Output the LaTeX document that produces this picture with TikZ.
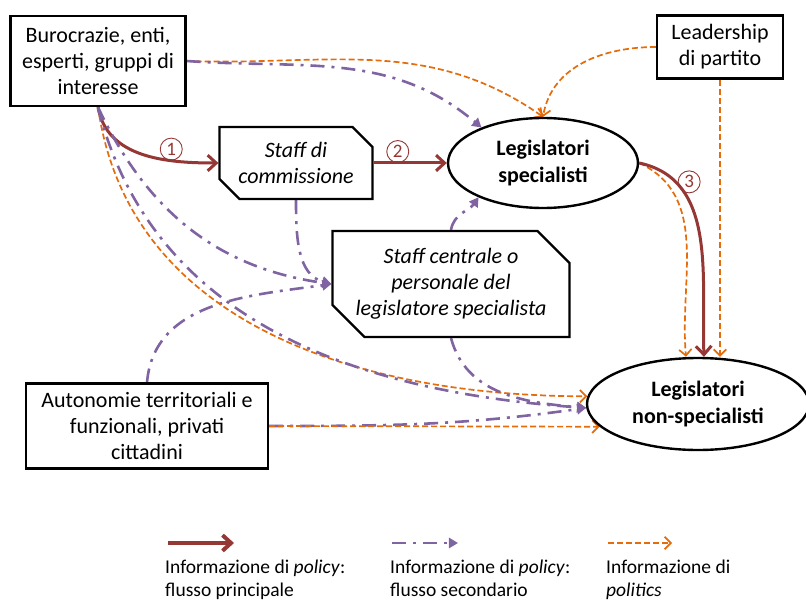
\documentclass[tikz,border=0pt]{standalone}
\usepackage{fontspec}
\setmainfont{Carlito}
\usepackage{tikz}
\usetikzlibrary{shapes.geometric, shapes.misc, arrows.meta, positioning, backgrounds}
\definecolor{policyRed}{RGB}{149,55,53}
\definecolor{policyPurple}{RGB}{128,100,162}
\definecolor{politicsOrange}{RGB}{228,108,10}
\tikzstyle{actor}    = [rectangle, draw, fill=white, line width=2.2pt, align=center,
                         inner sep=0pt, font=\fontsize{22}{26}\selectfont]
\tikzstyle{staff}    = [chamfered rectangle, chamfered rectangle corners={north east,south west},
                         chamfered rectangle xsep=10pt, chamfered rectangle ysep=10pt,
                         draw, fill=white, line width=2.2pt, align=center, inner sep=0pt,
                         font=\fontsize{22}{26}\selectfont\itshape]
\tikzstyle{legis}    = [ellipse, draw, fill=white, line width=2.4pt, align=center, inner sep=0pt,
                         font=\fontsize{22}{27}\selectfont\bfseries]

\begin{document}
\begin{tikzpicture}[
  x=1pt, y=-1pt,
  mainflow/.style={-{Straight Barb[length=3mm,width=5.5mm]}, line width=3pt, policyRed},
  secflow/.style={-{Triangle[length=3.2mm,width=3.6mm]}, line width=2.6pt, policyPurple,
                  dash pattern=on 14pt off 7pt on 3pt off 7pt},
  polflow/.style={-{Straight Barb[length=2.2mm,width=4.4mm]}, line width=1.7pt, politicsOrange,
                  dash pattern=on 6pt off 3pt},
  num/.style={circle, draw=policyRed, line width=0.9pt, solid, minimum size=22pt, inner sep=0pt,
              text=policyRed, font=\fontsize{19}{19}\selectfont},
  key/.style={align=left, anchor=north west, inner sep=0pt, font=\fontsize{19.5}{23}\selectfont}
]
  \useasboundingbox (0,0) rectangle (806,615);

  % Actors
  \node[actor, minimum width=175, minimum height=90] (buro) at (98,61) {Burocrazie, enti,\\esperti, gruppi di\\interesse};
  \node[actor, minimum width=126, minimum height=63] (leader) at (720,47) {Leadership\\di partito};
  \node[actor, minimum width=242, minimum height=85] (auton) at (147,426) {Autonomie territoriali e\\funzionali, privati\\cittadini};

  \node[staff, minimum width=153, minimum height=72] (staffcom) at (296,163) {Staff di\\commissione};
  \node[staff, minimum width=237, minimum height=106,
        chamfered rectangle xsep=16pt, chamfered rectangle ysep=16pt] (central) at (451,284) {Staff centrale o\\personale del\\legislatore specialista};

  \node[legis, minimum width=190, minimum height=90] (spec) at (543,163) {Legislatori\\specialisti};
  \node[legis, minimum width=222, minimum height=92] (nonspec) at (698,404) {Legislatori\\non-specialisti};

  % Flows
  \begin{scope}[on background layer]
    \draw[polflow] (buro.east) to[out=-2, in=145] (spec.north);
    \draw[secflow] (buro.east) to[out=-4, in=140] (spec.150);
    \draw[polflow] (leader.west) to[out=180, in=80] (spec.north);
    \draw[polflow] (leader.south) -- (nonspec.north -| leader.south);
    \draw[polflow] (spec.east) to[out=-25, in=95] ([xshift=-12pt]nonspec.north);
    \draw[mainflow] (spec.east) to[out=-12, in=92] node[num, pos=0.2, right=2pt] {3} ([xshift=6pt]nonspec.north);

    \draw[mainflow] (buro.south) to[out=-80, in=180] node[num, pos=0.7, above=0pt] {1} (staffcom.west);
    \draw[mainflow] (staffcom.east) -- node[num, pos=0.33, above=0pt] {2} (spec.west);

    \draw[secflow] (staffcom.south) to[out=-90, in=165] (central.west);
    \draw[secflow] (buro.south) to[out=-65, in=172] (central.west);
    \draw[secflow] (auton.north) to[out=85, in=188] (central.west);
    \draw[secflow] (central.north) to[out=80, in=-125] (spec.208);

    \draw[polflow] (buro.south) to[out=-82, in=180] (nonspec.176);
    \draw[secflow] (buro.south) to[out=-76, in=176] (nonspec.182);
    \draw[secflow] (central.south) to[out=-75, in=175] (nonspec.182);
    \draw[secflow] (auton.east) to[out=0, in=188] (nonspec.182);
    \draw[polflow] (auton.east) -- (nonspec.193);
  \end{scope}

  % Legend
  \coordinate (k1a) at (168,543); \coordinate (k1b) at (234,543);
  \coordinate (k2a) at (392,543); \coordinate (k2b) at (458,543);
  \coordinate (k3a) at (608,543); \coordinate (k3b) at (672,543);
  \draw[mainflow, line width=4pt] (k1a) -- (k1b);
  \draw[secflow] (k2a) -- (k2b);
  \draw[polflow] (k3a) -- (k3b);
  \node[key] (t1) at (165,560) {Informazione di \textit{policy}:\\flusso principale};
  \node[key] (t2) at (390,560) {Informazione di \textit{policy}:\\flusso secondario};
  \node[key] (t3) at (606,560) {Informazione di\\\textit{politics}};
\end{tikzpicture}
\end{document}
